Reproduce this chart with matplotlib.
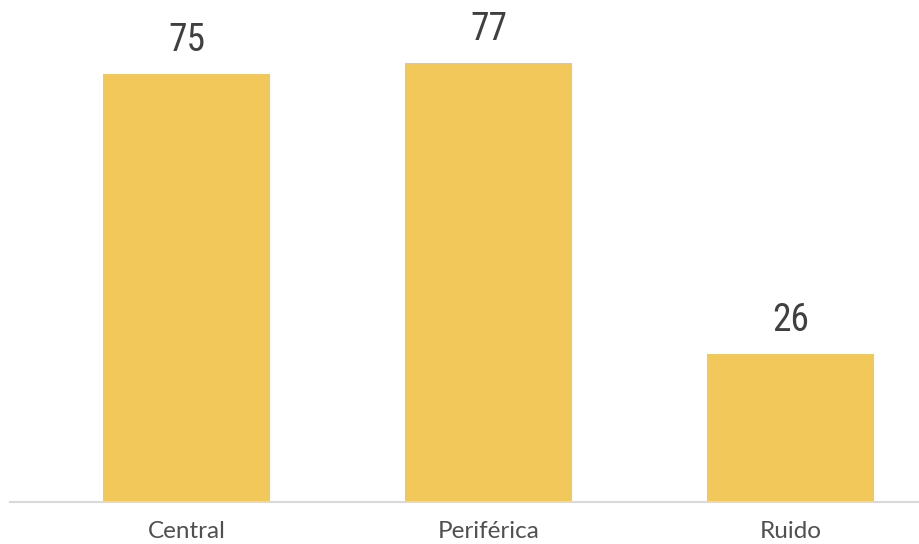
import matplotlib.pyplot as plt

categories = ['Central', 'Periférica', 'Ruido']
values = [75, 77, 26]

fig = plt.figure(figsize=(9.19, 5.44), dpi=100)
ax = fig.add_axes([10 / 919, 42 / 544, 909 / 919, 502 / 544])

x = range(len(categories))
ax.bar(x, values, width=0.553, color='#F2C85B')

for xi, v in zip(x, values):
    ax.text(xi, v + 2.6, str(v), ha='center', va='bottom', fontsize=27,
            color='#404040',
            family=['Roboto Condensed', 'DejaVu Sans'],
            fontstretch='condensed', fontweight='normal')

ax.set_xlim(-0.584, 2.425)
ax.set_ylim(0, 88)
ax.set_xticks(list(x))
ax.set_xticklabels(categories, fontsize=17.5, color='#505050', family='Lato')
ax.tick_params(axis='x', length=0, pad=14)
ax.set_yticks([])
for s in ['top', 'right', 'left']:
    ax.spines[s].set_visible(False)
ax.spines['bottom'].set_color('#D9D9D9')
ax.spines['bottom'].set_linewidth(1.5)

fig.savefig('out.png', dpi=100)
